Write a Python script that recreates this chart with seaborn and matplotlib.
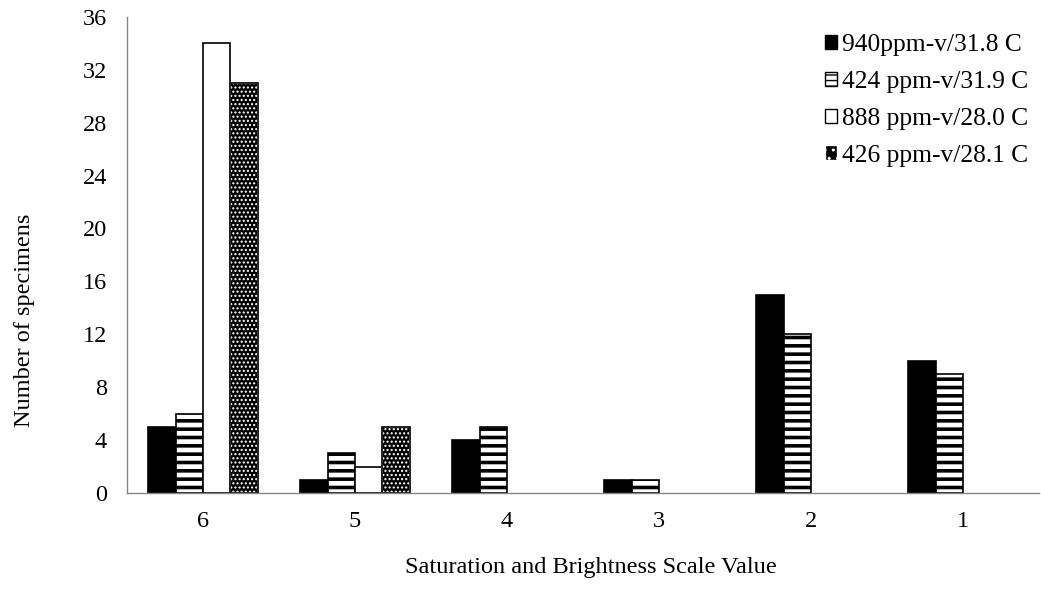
import matplotlib
matplotlib.use('Agg')
import matplotlib.pyplot as plt
import seaborn as sns
import pandas as pd
from matplotlib.patches import Patch, Rectangle

# ---- data ----
categories = ['6', '5', '4', '3', '2', '1']
series_names = ['940ppm-v/31.8 C', '424 ppm-v/31.9 C', '888 ppm-v/28.0 C', '426 ppm-v/28.1 C']
s940 = [5, 1, 4, 1, 15, 10]
s424 = [6, 3, 5, 1, 12, 9]
s888 = [34, 2, 0, 0, 0, 0]
s426 = [31, 5, 0, 0, 0, 0]
y_ticks = [0, 4, 8, 12, 16, 20, 24, 28, 32, 36]

sns.set_theme(style='white')
plt.rcParams['font.family'] = ['Liberation Serif', 'DejaVu Serif']
plt.rcParams['text.color'] = 'black'
plt.rcParams['axes.labelcolor'] = 'black'
plt.rcParams['xtick.color'] = 'black'
plt.rcParams['ytick.color'] = 'black'

rows = []
for name, vals in zip(series_names, [s940, s424, s888, s426]):
    for c, v in zip(categories, vals):
        rows.append({'scale': c, 'count': v, 'series': name})
df = pd.DataFrame(rows)

fig = plt.figure(figsize=(10.41, 5.9), dpi=100)
ax = fig.add_axes([0.122, 0.1644, 0.876, 0.807])

sns.barplot(data=df, x='scale', y='count', hue='series', order=categories,
            hue_order=series_names, palette=['black', 'white', 'white', 'black'],
            width=0.72, saturation=1, edgecolor='black', linewidth=1.2,
            legend=False, ax=ax, errorbar=None)

styles = [
    dict(face='black', edge='black', hatch=None, hlw=None),
    dict(face='white', edge='black', hatch='--', hlw=2.6),
    dict(face='white', edge='black', hatch=None, hlw=None),
    dict(face='black', edge='white', hatch='....', hlw=1.0),
]

for cont, st in zip(ax.containers, styles):
    for p in cont.patches:
        if p.get_height() == 0:
            p.set_visible(False)
            continue
        p.set_facecolor(st['face'])
        p.set_edgecolor(st['edge'])
        if st['hatch']:
            p.set_hatch(st['hatch'])
            if hasattr(p, 'set_hatch_linewidth'):
                p.set_hatch_linewidth(st['hlw'])
        if st['edge'] == 'white':
            ax.add_patch(Rectangle((p.get_x(), p.get_y()), p.get_width(), p.get_height(),
                                   fill=False, edgecolor='black', linewidth=1.2, zorder=p.get_zorder() + 0.1))

ax.set_ylim(0, 36)
ax.set_xlim(-0.5, len(categories) - 0.5)
ax.set_yticks(y_ticks)
ax.set_yticklabels([str(t) for t in y_ticks], fontsize=17.5)
ax.set_xticks(range(len(categories)))
ax.set_xticklabels(categories, fontsize=17.5)
ax.set_xticks([i - 0.5 for i in range(len(categories) + 1)], minor=True)
ax.tick_params(axis='x', which='major', length=0, pad=13)
ax.tick_params(axis='x', which='minor', length=6, width=1, color='#868686', direction='out')
ax.tick_params(axis='y', which='major', length=6, width=1, color='#868686', direction='out', pad=8.5)

for s in ['top', 'right']:
    ax.spines[s].set_visible(False)
for s in ['left', 'bottom']:
    ax.spines[s].set_color('#868686')
    ax.spines[s].set_linewidth(1)

ax.set_xlabel('Saturation and Brightness Scale Value', fontsize=17.5)
ax.set_ylabel('Number of specimens', fontsize=17.5)
ax.xaxis.set_label_coords(0.509, -0.134)
ax.yaxis.set_label_coords(-0.101, 0.363)

# legend
handles = []
for name, st in zip(series_names, styles):
    if st['edge'] == 'white':
        h = Patch(facecolor='black', edgecolor='white', hatch='..', label=name)
    else:
        h = Patch(facecolor=st['face'], edgecolor='black', hatch=('---' if st['hatch'] else None), label=name)
    handles.append(h)
leg = ax.legend(handles=handles, loc='upper right', bbox_to_anchor=(1.0, 0.985), frameon=False,
                fontsize=18.4, handlelength=0.5, handleheight=0.5, handletextpad=0.2,
                labelspacing=0.58, borderaxespad=0.0, borderpad=0.4)

fig.savefig('out.png', dpi=100)
